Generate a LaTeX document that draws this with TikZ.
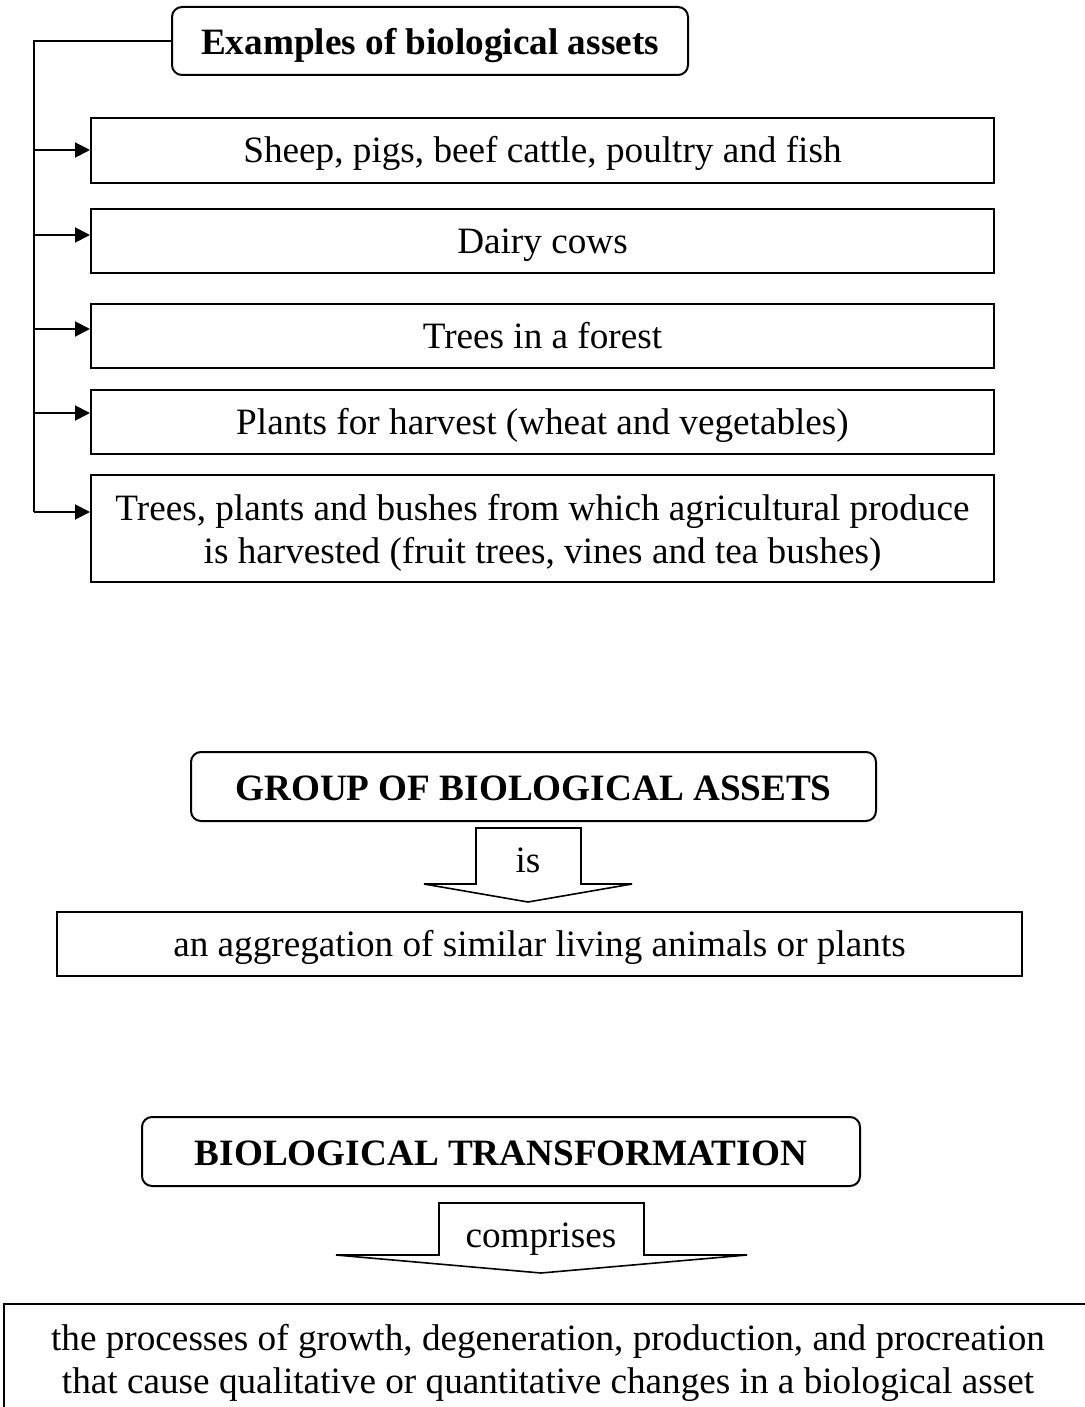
\documentclass[tikz,border=0pt]{standalone}
\usepackage{fontspec}
\setmainfont{Liberation Serif}
\usetikzlibrary{arrows.meta}
\begin{document}
\begin{tikzpicture}[x=0.5pt,y=-0.5pt,
  every node/.style={font=\fontsize{18.6}{21.5}\selectfont},
  line/.style={text height=16.5pt,text depth=4pt},
  box/.style={draw,line width=1pt,inner sep=0pt,align=center,minimum width=451.5pt},
  headbox/.style={draw,line width=1pt,rounded corners=5pt,inner sep=0pt,text height=18pt,text depth=4pt,font=\fontsize{18.6}{21.5}\selectfont\bfseries},
  arr/.style={line width=1pt,-{Triangle[length=7.5pt,width=7.5pt]}},
  trunk/.style={line width=1pt},
  blockarrow/.style={draw,line width=0.8pt,line join=miter,fill=white}]
\useasboundingbox (0,0) rectangle (1084,1407);

% heading of the examples list
\node[headbox,minimum width=258pt,minimum height=34pt] (ex) at (430,41) {Examples of biological assets};

% the example boxes
\node[box,line,minimum height=32.5pt] (b1) at (542.5,150.5) {Sheep, pigs, beef cattle, poultry and fish};
\node[box,line,minimum height=32pt] (b2) at (542.5,241) {Dairy cows};
\node[box,line,minimum height=32pt] (b3) at (542.5,336) {Trees in a forest};
\node[box,line,minimum height=32pt] (b4) at (542.5,422) {Plants for harvest (wheat and vegetables)};
\node[box,minimum height=53.5pt] (b5) at (542.5,528.5) {};
\node[align=center] (b5text) at ([yshift=-2pt]b5.center) {Trees, plants and bushes from which agricultural produce\\is harvested (fruit trees, vines and tea bushes)};

% trunk line with branches
\coordinate (top) at (34,41);
\coordinate (t1) at (34,150);
\coordinate (t2) at (34,235);
\coordinate (t3) at (34,329);
\coordinate (t4) at (34,413);
\coordinate (t5) at (34,512);
\draw[trunk] (ex.west) -- (top) -- (t5);
\draw[arr] (t1) -- (t1 -| b1.west);
\draw[arr] (t2) -- (t2 -| b2.west);
\draw[arr] (t3) -- (t3 -| b3.west);
\draw[arr] (t4) -- (t4 -| b4.west);
\draw[arr] (t5) -- (t5 -| b5.west);

% group of biological assets
\node[headbox,minimum width=342.5pt,minimum height=34.5pt] (grp) at (533.5,786.5) {GROUP OF BIOLOGICAL ASSETS};
\draw[blockarrow] (476,828) -- (581,828) -- (581,884) -- (632,884) -- (528,902) -- (424,884) -- (476,884) -- cycle;
\node[line] (is) at (528,860) {is};
\node[box,line,minimum width=482.5pt,minimum height=32pt] (agg) at (539.5,944) {an aggregation of similar living animals or plants};

% biological transformation
\node[headbox,minimum width=359pt,minimum height=34.5pt] (bt) at (501,1151.5) {BIOLOGICAL TRANSFORMATION};
\draw[blockarrow] (439,1203) -- (644,1203) -- (644,1255) -- (747,1255) -- (541,1273) -- (336,1255) -- (439,1255) -- cycle;
\node[line] (comp) at (541,1234.5) {comprises};
\node[box,minimum width=545.5pt,minimum height=58pt] (proc) at (549.5,1362) {};
\node[align=center] (proctext) at (548,1363) {the processes of growth, degeneration, production, and procreation\\that cause qualitative or quantitative changes in a biological asset};
\end{tikzpicture}
\end{document}
